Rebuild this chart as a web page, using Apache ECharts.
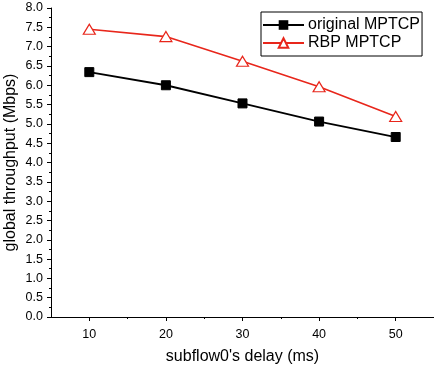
<!DOCTYPE html>
<html><head><meta charset="utf-8">
<script src="https://cdn.jsdelivr.net/npm/echarts@6/dist/echarts.min.js"></script>
<style>html,body{margin:0;padding:0;background:#fff}#c{width:434px;height:368px}</style>
</head><body><div id="c"></div>
<script>
var delays = [10, 20, 30, 40, 50];
var originalMPTCP = [6.34, 6.00, 5.53, 5.06, 4.66];
var rbpMPTCP = [7.45, 7.26, 6.62, 5.96, 5.19];
var xMajorTicks = [10, 20, 30, 40, 50];
var xMinorTicks = [15, 25, 35, 45];
var seriesNames = ['original MPTCP', 'RBP MPTCP'];

var font = 'Liberation Sans, Arial, sans-serif';
function pairs(xs, ys){ return xs.map(function(x,i){return [x, ys[i]];}); }

var chart = echarts.init(document.getElementById('c'), null, {renderer:'canvas'});
chart.setOption({
  animation:false,
  backgroundColor:'#fff',
  textStyle:{fontFamily:font},
  grid:{left:51, top:8, right:0, bottom:51, containLabel:false, outerBoundsMode:'none'},
  legend:{
    orient:'vertical', left:261, top:12,
    padding:[4,2,4,1], itemGap:0, itemWidth:41, itemHeight:12,
    borderColor:'#000', borderWidth:1, backgroundColor:'#fff',
    textStyle:{fontFamily:font, fontSize:16, lineHeight:18, color:'#000', padding:[0,0,0,-1]},
    data:[{name:seriesNames[0]},{name:seriesNames[1]}]
  },
  xAxis:[{
    type:'value', min:5, max:55,
    name:"subflow0's delay (ms)", nameLocation:'middle', nameGap:32, nameMoveOverlap:false,
    nameTextStyle:{fontFamily:font, fontSize:16, color:'#000'},
    axisLine:{show:true, onZero:false, lineStyle:{color:'#000', width:1}},
    axisTick:{show:true, length:4, customValues:xMajorTicks, lineStyle:{color:'#000'}},
    axisLabel:{customValues:xMajorTicks, fontFamily:font, fontSize:12.5, color:'#000', margin:11},
    splitLine:{show:false}
  },{
    type:'value', min:5, max:55, position:'bottom',
    axisLine:{show:false},
    axisTick:{show:true, length:2, customValues:xMinorTicks, lineStyle:{color:'#000'}},
    axisLabel:{show:false},
    splitLine:{show:false}
  }],
  yAxis:{
    type:'value', min:0, max:8, interval:0.5,
    name:'global throughput (Mbps)', nameLocation:'middle', nameGap:32, nameMoveOverlap:false,
    nameTextStyle:{fontFamily:font, fontSize:16, color:'#000'},
    axisLine:{show:true, lineStyle:{color:'#000', width:1}},
    axisTick:{show:true, length:4, lineStyle:{color:'#000'}},
    minorTick:{show:true, splitNumber:2, length:2, lineStyle:{color:'#000'}},
    axisLabel:{fontFamily:font, fontSize:12.5, color:'#000', margin:8,
      formatter:function(v){return v.toFixed(1);}},
    splitLine:{show:false}
  },
  series:[{
    name:seriesNames[0], type:'line', data:pairs(delays, originalMPTCP),
    symbol:'rect', symbolSize:9,
    lineStyle:{color:'#000', width:1.8},
    itemStyle:{color:'#000', borderColor:'#000'}
  },{
    name:seriesNames[1], type:'line', data:pairs(delays, rbpMPTCP),
    symbol:'triangle', symbolSize:[12,10],
    lineStyle:{color:'#e8261b', width:1.6},
    itemStyle:{color:'#fff', borderColor:'#e8261b', borderWidth:1.2}
  }]
});
</script>
</body></html>
